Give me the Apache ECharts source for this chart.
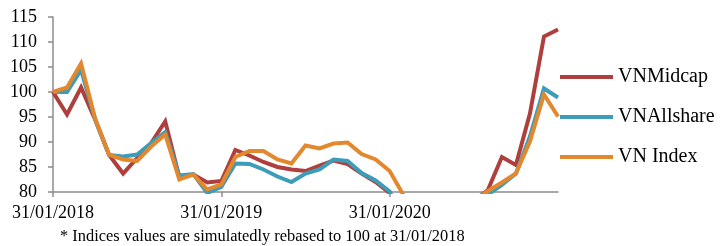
<!DOCTYPE html>
<html>
<head>
<meta charset="utf-8">
<script src="https://cdn.jsdelivr.net/npm/echarts@6/dist/echarts.min.js"></script>
<style>
html,body{margin:0;padding:0;background:#fff;}
#chart{width:722px;height:246px;}
</style>
</head>
<body>
<div id="chart"></div>
<script>
var categories = [
 "31/01/2018","28/02/2018","31/03/2018","30/04/2018","31/05/2018","30/06/2018","31/07/2018","31/08/2018","30/09/2018","31/10/2018","30/11/2018","31/12/2018",
 "31/01/2019","28/02/2019","31/03/2019","30/04/2019","31/05/2019","30/06/2019","31/07/2019","31/08/2019","30/09/2019","31/10/2019","30/11/2019","31/12/2019",
 "31/01/2020","29/02/2020","31/03/2020","30/04/2020","31/05/2020","30/06/2020","31/07/2020","31/08/2020","30/09/2020","31/10/2020","30/11/2020","31/12/2020",
 "31/01/2021"
];
var vnMidcap = [100,95.5,100.9,94.5,87.4,83.7,86.8,89.8,94.1,83.0,83.5,81.9,
 82.2,88.4,87.3,86.0,85.0,84.5,84.2,85.3,86.3,85.6,83.7,82.0,
 79.8,72,68,70,73,75,78.2,80.4,87.0,85.4,95.7,111.1,112.5];
var vnAllshare = [100,100.0,104.4,94.6,87.4,87.1,87.5,89.8,92.0,83.3,83.6,79.8,
 81.0,85.7,85.6,84.5,83.1,82.0,83.7,84.5,86.5,86.2,83.8,82.3,
 80.1,74,69,71,74,76,78,79.5,81.4,83.7,91.1,100.7,98.9];
var vnIndex = [100,100.9,105.7,94.7,87.4,86.5,86.2,89.1,91.5,82.5,83.5,80.5,
 81.5,87.0,88.2,88.2,86.5,85.7,89.3,88.7,89.7,89.9,87.6,86.5,
 84.2,79.3,72,70,73,75,78.2,80.2,81.9,83.7,90.1,99.5,95.1];
var seriesNames = ["VNMidcap","VNAllshare","VN Index"];
var yTicks = {min:80, max:115, step:5};
var footnote = "* Indices values are simulatedly rebased to 100 at 31/01/2018";

var FONT = "'Liberation Serif','Times New Roman',serif";
var colors = ['#AE3F3C','#3D9CB8','#E2882F'];
var showIdx = function(i){ return i % 12 === 0 && i < 36; };

var chart = echarts.init(document.getElementById('chart'), null, {renderer:'canvas'});
function mk(name, data, color){
  return {name:name, type:'line', data:data, symbol:'none', showSymbol:false,
    clip:true, lineStyle:{width:4, color:color, join:'miter'}, itemStyle:{color:color}, animation:false};
}
chart.setOption({
  animation:false,
  grid:{left:53, right:164, top:17, bottom:54, containLabel:false},
  legend:{orient:'vertical', left:560, top:67, padding:0, itemWidth:53, itemHeight:4, icon:'rect', itemGap:20,
    textStyle:{fontFamily:FONT, fontSize:20, color:'#000', lineHeight:20},
    data:seriesNames},
  xAxis:{type:'category', data:categories, boundaryGap:false,
    axisLine:{lineStyle:{color:'#8c8c8c', width:1.5}},
    axisTick:{show:true, interval:function(i){return showIdx(i);}, length:5, lineStyle:{color:'#8c8c8c', width:1.5}},
    axisLabel:{interval:function(i){return showIdx(i);}, fontFamily:FONT, fontSize:18, color:'#000', margin:12},
    splitLine:{show:false}},
  yAxis:{type:'value', min:yTicks.min, max:yTicks.max, interval:yTicks.step,
    axisLine:{show:true, lineStyle:{color:'#8c8c8c', width:1.5}},
    axisTick:{show:true, length:5, lineStyle:{color:'#8c8c8c', width:1.5}},
    axisLabel:{fontFamily:FONT, fontSize:18, color:'#000', margin:16},
    splitLine:{show:false}},
  graphic:[{type:'text', left:60, top:229,
    style:{text:footnote, font:"16.4px "+FONT, fill:'#000'}}],
  series:[mk(seriesNames[0], vnMidcap, colors[0]), mk(seriesNames[1], vnAllshare, colors[1]), mk(seriesNames[2], vnIndex, colors[2])]
});
</script>
</body>
</html>
